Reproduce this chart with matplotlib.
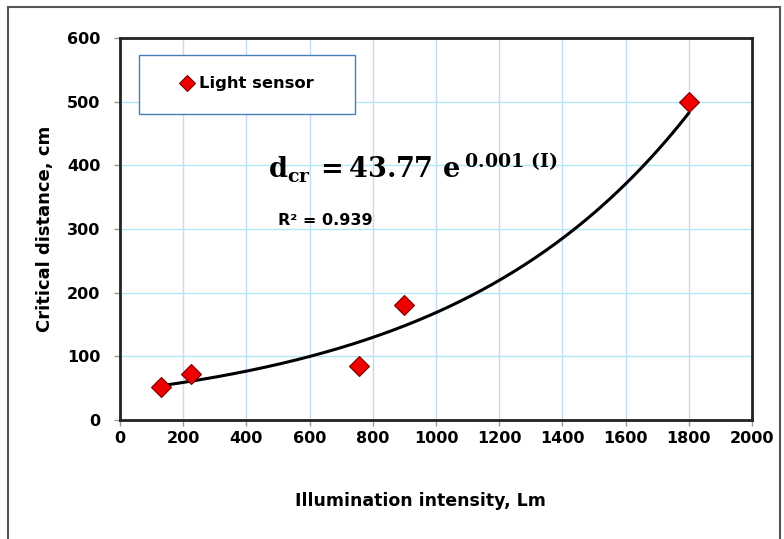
import numpy as np
import matplotlib
matplotlib.use("Agg")
import matplotlib.pyplot as plt
from matplotlib.patches import Rectangle

# Data
illum = [130, 225, 755, 900, 1800]
dist = [52, 72, 85, 180, 500]
series_name = "Light sensor"
xticks = list(range(0, 2001, 200))
yticks = list(range(0, 601, 100))

plt.rcParams['font.family'] = ['DejaVu Sans']
plt.rcParams['font.weight'] = 'bold'
plt.rcParams['mathtext.fontset'] = 'dejavuserif'

fig = plt.figure(figsize=(7.84, 5.39), dpi=100)
ax = fig.add_axes([120/784, 1 - 420/539, 632/784, 382/539])

# outer frame
fig.patches.append(Rectangle((8/784, -0.02), 772/784, 1 - 7/539 + 0.02,
                             transform=fig.transFigure, fill=False,
                             edgecolor='#555555', lw=1.5))

# grid
for x in xticks[1:-1]:
    ax.axvline(x, color='#c5daf2', lw=1.0, zorder=0)
for y in yticks[1:-1]:
    ax.axhline(y, color='#b3e9f7', lw=1.0, zorder=0)

# exponential trend line fitted to data
b, lna = np.polyfit(illum, np.log(dist), 1)
a = np.exp(lna)
xs = np.linspace(min(illum), max(illum), 200)
ax.plot(xs, a * np.exp(b * xs), color='black', lw=2.2, zorder=2)

ax.plot(illum, dist, linestyle='none', marker='D', markersize=10.5,
        markerfacecolor='#ee0000', markeredgecolor='#7a0000',
        markeredgewidth=0.8, zorder=3, label=series_name)

ax.set_xlim(0, 2000)
ax.set_ylim(0, 600)
ax.set_xticks(xticks)
ax.set_yticks(yticks)
ax.tick_params(direction='out', length=4, width=1, labelsize=11.5,
               color='#999999')
ax.tick_params(axis='y', pad=10)
ax.tick_params(axis='x', pad=4)
for lab in ax.get_xticklabels() + ax.get_yticklabels():
    lab.set_fontweight('bold')
for sp in ax.spines.values():
    sp.set_linewidth(2)
    sp.set_color('#222222')

ax.set_xlabel('Illumination intensity, Lm', fontsize=12.5, fontweight='bold')
ax.xaxis.set_label_coords(300/632, -72/382)
ax.set_ylabel('Critical distance, cm', fontsize=13, fontweight='bold')
ax.yaxis.set_label_coords(-66/632, 0.5)

# legend box
ax.add_patch(Rectangle((19/632, 1 - 114/382 + 38/382), 216/632, 59/382,
                       transform=ax.transAxes, fill=True, facecolor='white',
                       edgecolor='#4a7ebb', lw=1.0, zorder=4))
leg = ax.legend(loc='center left', bbox_to_anchor=(0.098, 0.88), frameon=False,
                handlelength=0.6, handletextpad=0.45, borderpad=0, borderaxespad=0,
                prop={'weight': 'bold', 'size': 11.8}, markerscale=0.8)
leg.set_zorder(5)

ax.text(0.234, 0.631, r'$\mathbf{d_{cr}}\,\mathbf{{=}43.77\ e\,^{0.001\ (I)}}$',
        transform=ax.transAxes, fontsize=19.5, va='baseline')
ax.text(0.25, 0.51, 'R² = 0.939', transform=ax.transAxes, fontsize=11.5,
        fontweight='bold', va='baseline')

fig.savefig('out.png', dpi=100)
